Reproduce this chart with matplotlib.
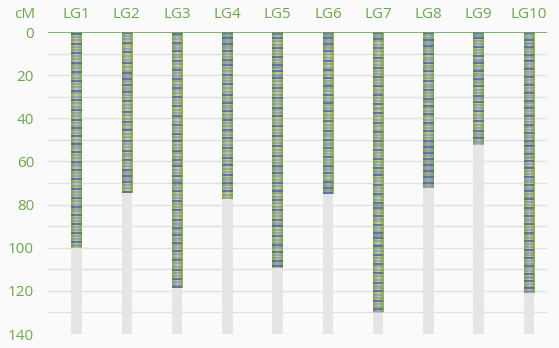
import numpy as np
import matplotlib
matplotlib.use("Agg")
import matplotlib.pyplot as plt
from matplotlib.colors import LinearSegmentedColormap

plt.rcParams["font.family"] = ["Open Sans", "DejaVu Sans"]

GREEN = "#6AA84F"
BG = "#FAFAFA"

# linkage groups and their lengths (cM)
GROUPS = ["LG1", "LG2", "LG3", "LG4", "LG5", "LG6", "LG7", "LG8", "LG9", "LG10"]
LENGTHS = [100.0, 74.6, 118.7, 77.6, 109.4, 75.1, 129.8, 72.3, 52.2, 121.0]
AXIS_MAX = 140

# marker positions (cM) per linkage group
LG1 = [0.8, 2.5, 3.6, 5.4, 7.0, 8.2, 9.9, 11.3, 12.6, 14.5, 15.2, 16.8, 18.5, 19.4, 21.2, 22.9, 24.0,
       25.6, 27.5, 28.3, 30.1, 31.7, 33.0, 34.6, 36.2, 37.5, 39.1, 40.8, 42.0, 43.6, 44.5, 45.3, 47.0,
       48.4, 50.2, 51.3, 52.0, 53.0, 54.0, 55.6, 57.2, 58.5, 60.1, 61.3, 62.0, 63.8, 65.2, 66.9, 68.1,
       69.7, 71.4, 73.0, 74.0, 75.5, 77.1, 78.4, 80.0, 81.2, 82.0, 83.0, 84.7, 86.0, 87.6, 89.2, 90.5,
       92.0, 93.0, 94.6, 96.0, 97.4, 98.6, 99.4]
LG2 = [0.6, 1.9, 3.4, 5.0, 5.6, 7.8, 9.5, 11.0, 12.9, 14.6, 16.3, 18.0, 18.9, 19.8, 20.9, 21.7, 22.4,
       23.2, 24.8, 26.0, 26.9, 28.0, 29.0, 30.7, 32.2, 33.9, 35.4, 37.0, 38.6, 40.1, 41.8, 43.2, 45.0,
       45.6, 47.3, 48.9, 50.4, 52.0, 53.5, 55.1, 56.4, 57.6, 59.2, 60.7, 62.3, 63.8, 65.0, 65.9, 66.8,
       67.9, 68.8, 69.7, 71.0, 72.5, 74.0]
LG3 = [0.7, 2.0, 3.3, 4.9, 6.2, 7.4, 8.8, 10.5, 11.7, 13.4, 14.9, 16.7, 17.5, 19.0, 20.6, 21.9, 22.9,
       24.5, 25.8, 26.7, 28.4, 30.0, 31.3, 32.9, 34.5, 36.0, 37.4, 38.8, 39.9, 41.5, 43.1, 44.6, 46.0,
       47.5, 48.7, 49.9, 50.7, 52.2, 53.6, 55.0, 56.1, 57.8, 59.2, 60.5, 61.5, 62.3, 63.9, 65.4, 66.9,
       68.5, 69.3, 70.0, 70.8, 72.3, 73.9, 75.4, 76.8, 78.3, 79.6, 81.0, 82.4, 83.9, 85.4, 87.0, 88.6,
       89.5, 90.9, 91.8, 93.0, 94.2, 95.5, 96.4, 97.6, 98.6, 100.1, 101.7, 103.0, 104.8, 105.7, 107.3,
       108.9, 110.2, 111.8, 113.3, 114.6, 116.0, 117.3, 118.3]
LG4 = [0.5, 1.2, 2.1, 3.0, 3.9, 4.8, 5.7, 6.5, 7.4, 8.9, 10.4, 11.7, 12.8, 13.6, 14.3, 15.1, 16.7,
       18.2, 19.8, 21.3, 22.7, 24.3, 26.0, 27.6, 29.0, 30.6, 32.1, 33.0, 34.1, 35.2, 36.8, 38.3, 39.7,
       41.0, 42.2, 43.8, 45.3, 46.4, 47.6, 49.2, 50.7, 52.2, 53.8, 55.3, 56.9, 58.4, 59.8, 61.2, 61.7,
       63.3, 64.8, 66.3, 67.7, 68.7, 69.8, 70.8, 72.4, 73.9, 75.5, 77.0]
LG5 = [0.3, 0.8, 1.2, 2.8, 4.3, 5.9, 7.4, 8.9, 10.3, 11.8, 13.2, 14.4, 15.2, 16.0, 16.7, 18.3, 19.8,
       20.6, 21.3, 22.9, 24.4, 26.0, 27.5, 29.0, 30.5, 32.1, 33.6, 35.0, 36.0, 37.6, 39.1, 40.6, 42.2,
       43.7, 45.3, 46.8, 48.4, 49.9, 51.5, 53.0, 54.6, 56.1, 57.7, 59.2, 60.8, 62.3, 63.0, 63.8, 65.4,
       66.9, 68.5, 70.1, 71.6, 73.1, 73.9, 74.7, 76.3, 77.8, 79.4, 80.9, 82.4, 84.0, 85.5, 87.1, 88.5,
       89.3, 90.1, 91.7, 93.2, 94.8, 96.3, 97.7, 98.6, 99.4, 100.2, 101.8, 103.3, 104.8, 106.1, 107.1,
       107.9, 108.7]
LG6 = [0.4, 1.2, 2.0, 2.9, 3.8, 4.7, 5.6, 6.5, 7.4, 8.9, 10.4, 11.9, 13.3, 14.8, 16.7, 17.4, 18.2,
       19.8, 21.2, 22.7, 24.0, 25.2, 26.0, 27.5, 29.0, 30.6, 32.1, 32.9, 33.7, 35.2, 36.8, 38.3, 39.8,
       41.4, 43.0, 44.6, 46.1, 47.3, 48.4, 50.0, 51.4, 52.2, 53.7, 55.2, 56.7, 58.1, 59.2, 60.8, 62.3,
       63.0, 63.8, 65.4, 66.9, 68.5, 69.4, 70.3, 71.3, 72.3, 73.1, 73.9, 74.6]
LG7 = [0.4, 1.2, 2.2, 3.3, 4.3, 5.8, 7.4, 9.0, 10.5, 12.0, 13.6, 15.1, 16.6, 18.1, 19.5, 21.0, 22.1,
       23.7, 25.2, 26.8, 28.2, 29.0, 30.6, 32.1, 33.6, 35.2, 35.8, 37.4, 39.1, 40.6, 42.2, 43.7, 45.2,
       46.5, 47.6, 49.1, 50.6, 52.0, 53.0, 54.6, 56.1, 57.6, 59.1, 60.4, 61.5, 63.0, 64.6, 65.4, 66.2,
       67.7, 69.3, 70.8, 72.3, 73.8, 75.0, 76.2, 77.8, 79.2, 80.0, 80.8, 81.6, 82.4, 84.0, 85.5, 86.8,
       87.8, 89.3, 90.9, 92.4, 93.2, 94.0, 94.8, 95.5, 97.0, 98.6, 99.4, 100.2, 101.7, 103.3, 104.8,
       106.3, 107.7, 108.7, 110.2, 111.8, 113.3, 114.8, 116.3, 117.6, 118.7, 120.2, 121.8, 123.3,
       124.8, 126.2, 127.6, 128.4, 128.9, 129.6]
LG8 = [0.5, 1.6, 2.8, 3.7, 4.6, 5.5, 6.4, 7.4, 8.9, 10.4, 12.0, 12.8, 14.4, 15.6, 16.7, 18.2, 19.8,
       21.3, 22.9, 24.4, 25.6, 26.7, 28.3, 29.8, 31.2, 32.1, 32.6, 34.1, 35.2, 36.8, 38.0, 39.1, 40.6,
       42.0, 43.3, 44.5, 46.1, 47.6, 49.1, 50.3, 51.5, 52.4, 53.3, 54.1, 55.0, 55.9, 56.7, 57.6, 58.9,
       60.0, 60.9, 61.8, 62.7, 63.6, 64.5, 65.4, 66.3, 67.2, 68.1, 69.0, 70.0, 70.8, 71.7]
LG9 = [0.4, 1.2, 2.0, 2.8, 4.3, 5.7, 7.1, 8.2, 9.8, 11.3, 12.8, 13.6, 14.2, 15.8, 17.1, 18.2, 19.6,
       20.6, 21.6, 22.6, 23.6, 25.1, 26.7, 28.2, 29.8, 30.3, 30.9, 32.4, 33.9, 35.2, 36.8, 38.3, 39.9,
       41.4, 43.0, 44.5, 46.0, 47.3, 48.4, 49.1, 50.4, 51.6]
LG10 = [0.4, 1.5, 2.6, 3.8, 5.1, 5.7, 6.9, 8.1, 9.3, 10.6, 11.8, 13.0, 13.6, 14.8, 16.0, 17.3, 18.5,
        19.8, 21.0, 22.3, 23.5, 24.8, 26.0, 27.3, 28.5, 29.8, 30.5, 31.8, 33.0, 34.3, 35.2, 36.5, 37.8,
        39.0, 40.3, 41.6, 42.9, 44.2, 45.5, 46.8, 48.0, 49.3, 50.6, 51.6, 52.2, 52.8, 54.1, 55.4, 56.7,
        58.0, 58.4, 59.8, 61.2, 62.5, 63.1, 64.5, 65.8, 67.1, 68.4, 69.7, 71.0, 72.3, 73.1, 73.7, 75.0,
        76.3, 77.6, 78.9, 80.1, 81.4, 82.7, 83.9, 85.2, 86.5, 87.8, 89.1, 90.4, 91.7, 93.0, 94.3, 95.6,
        97.1, 98.4, 99.7, 101.0, 102.3, 103.6, 104.8, 106.1, 107.4, 108.7, 109.4, 110.8, 112.1, 113.4,
        114.1, 115.5, 116.8, 118.1, 118.7, 120.0, 120.6]
MARKERS = [LG1, LG2, LG3, LG4, LG5, LG6, LG7, LG8, LG9, LG10]

BAR_W = 0.21

# green edges, pale grey core -> rounded look across the bar
cyl = LinearSegmentedColormap.from_list(
    "cyl", ["#8AB43A", "#A6BA80", "#C6C8BC", "#A6BA80", "#8AB43A"])
grad = np.linspace(0, 1, 64)[None, :]

fig = plt.figure(figsize=(5.59, 3.48), dpi=100, facecolor=BG)
ax = fig.add_axes([48 / 559, 14 / 348, 499 / 559, 302 / 348])
ax.set_facecolor(BG)

x = np.arange(len(GROUPS))
ax.bar(x, AXIS_MAX, width=BAR_W, bottom=0, color="#E5E5E5", zorder=1)

# marker colours cycle between strong blue and muted slate
mk_colors = ["#3550B0", "#6B7C9E", "#5A6FA8"]
mk_alpha = [0.85, 0.5, 0.4]

for i, (length, marks) in enumerate(zip(LENGTHS, MARKERS)):
    ax.imshow(grad, cmap=cyl, aspect="auto", interpolation="bilinear",
              extent=[i - BAR_W / 2, i + BAR_W / 2, length, 0], zorder=2)
    for k, m in enumerate(marks):
        ax.hlines(m, i - BAR_W / 2, i + BAR_W / 2, color=mk_colors[k % 3],
                  alpha=mk_alpha[k % 3], linewidth=1.1, zorder=3)

ax.set_xlim(-0.567, 9.357)
ax.set_ylim(AXIS_MAX, 0)
ax.set_aspect("auto")

ax.set_yticks(np.arange(0, AXIS_MAX + 1, 20))
for y in range(10, AXIS_MAX + 1, 10):
    ax.axhline(y, color="#E0E0E0", linewidth=1.0, zorder=0)
ax.axhline(0, color=GREEN, linewidth=1.2, zorder=4)

ax.xaxis.tick_top()
ax.set_xticks(x)
ax.set_xticklabels(GROUPS)
ax.tick_params(axis="x", length=0, pad=7, labelsize=11, labelcolor=GREEN)
ax.tick_params(axis="y", which="both", length=0, pad=10, labelsize=11, labelcolor=GREEN)
for s in ax.spines.values():
    s.set_visible(False)

fig.text(25 / 559, 1 - 14 / 348, "cM", ha="center", va="center", color=GREEN, fontsize=11)

fig.savefig("out.png", dpi=100, facecolor=BG)
